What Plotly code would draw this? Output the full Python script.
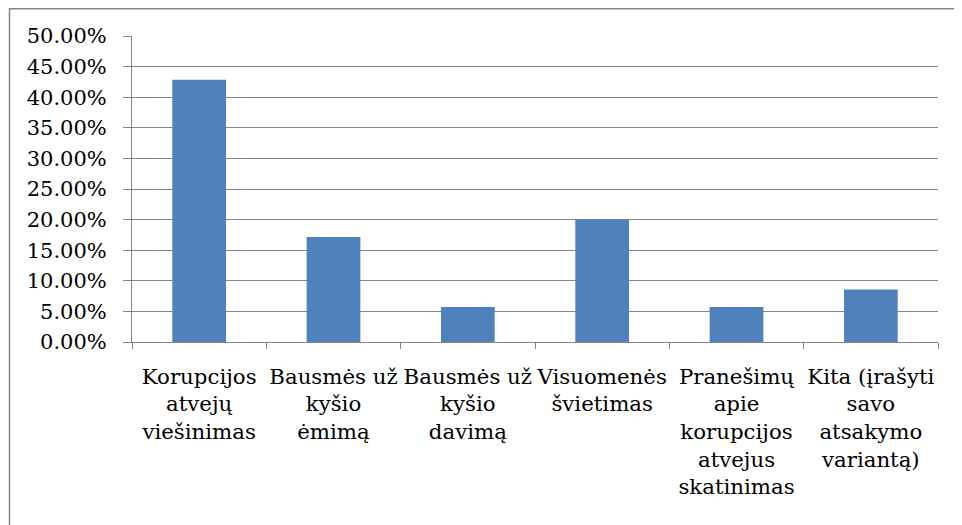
import plotly.graph_objects as go

categories = [
    "Korupcijos<br>atvejų<br>viešinimas",
    "Bausmės už<br>kyšio<br>ėmimą",
    "Bausmės už<br>kyšio<br>davimą",
    "Visuomenės<br>švietimas",
    "Pranešimų<br>apie<br>korupcijos<br>atvejus<br>skatinimas",
    "Kita (įrašyti<br>savo<br>atsakymo<br>variantą)",
]
values = [0.4286, 0.1714, 0.0571, 0.2000, 0.0571, 0.0857]

OFF = 8  # page body margin
W, H = 962, 525
L, T = 132 - OFF, 36 - OFF
pw, ph = 806, 306
R, B = W - L - pw, H - T - ph

FONT = "DejaVu Serif"

fig = go.Figure(go.Bar(x=categories, y=values, marker=dict(color="#4F81BD", line=dict(width=0)),
                       hoverinfo="skip"))

grid = "#868686"
fig.update_layout(
    width=W, height=H,
    margin=dict(l=L, r=R, t=T, b=B, autoexpand=False),
    paper_bgcolor="white", plot_bgcolor="white",
    bargap=0.6,
    showlegend=False,
    font=dict(family=FONT, color="black"),
    xaxis=dict(
        showgrid=False, showline=True, linecolor=grid, linewidth=1,
        ticks="outside", ticklen=6, tickcolor=grid, tickson="boundaries",
        tickfont=dict(size=21.3, family=FONT), tickangle=0, ticklabelstandoff=15,
    ),
    yaxis=dict(
        range=[0, 0.5], dtick=0.05, tickformat=".2%",
        showgrid=True, gridcolor=grid, gridwidth=1,
        showline=True, linecolor=grid, linewidth=1,
        ticks="outside", ticklen=8, tickcolor=grid,
        tickfont=dict(size=21, family=FONT), zeroline=False, ticklabelstandoff=12,
    ),
    shapes=[dict(
        type="rect", xref="paper", yref="paper",
        x0=(9.5 - OFF - L) / pw, x1=(990 - L) / pw,
        y0=(T + ph - 560) / ph, y1=1 + (T - 0.8) / ph,
        line=dict(color=grid, width=1.5), fillcolor="rgba(0,0,0,0)", layer="below",
    )],
)

fig.write_html("out.html")
